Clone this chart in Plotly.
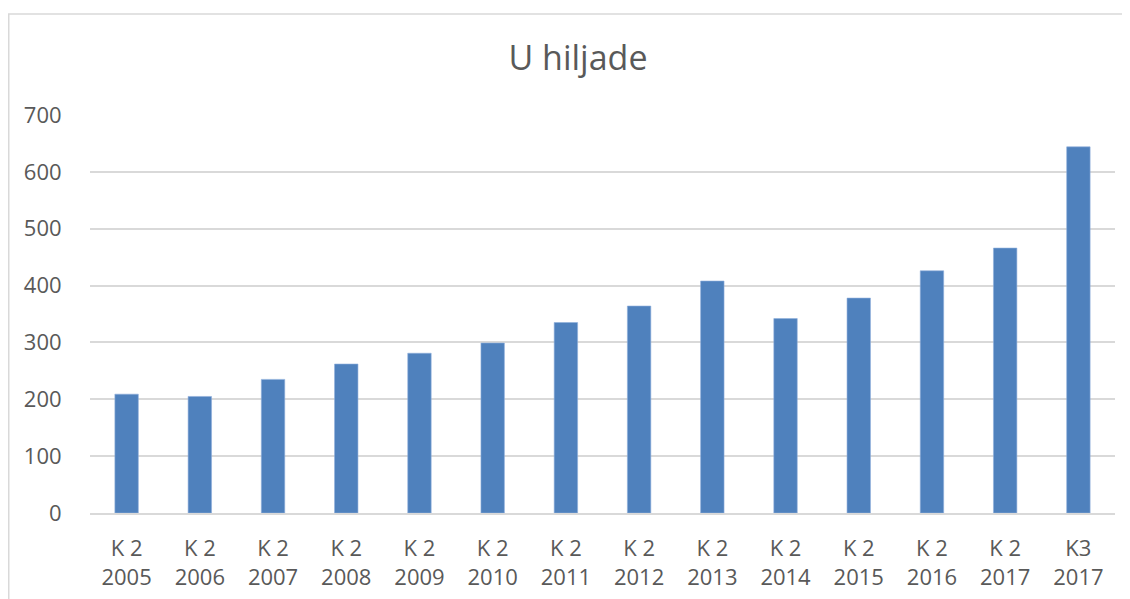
""" Bar chart: U hiljade """

import plotly.graph_objects as go

quarters = ["K 2", "K 2", "K 2", "K 2", "K 2", "K 2", "K 2",
            "K 2", "K 2", "K 2", "K 2", "K 2", "K 2", "K3"]
years = ["2005", "2006", "2007", "2008", "2009", "2010", "2011",
         "2012", "2013", "2014", "2015", "2016", "2017", "2017"]
values = [209, 205, 235, 262, 281, 299, 335, 364, 408, 342, 378, 426, 466, 644]
y_ticks = [0, 100, 200, 300, 400, 500, 600, 700]

labels = [f"{q}<br>{y}" for q, y in zip(quarters, years)]

# the page body adds an 8px offset, so the figure is laid out 8px up/left
W, H = 1130, 599
L, R, T, B = 82, 23, 107, 94
plot_w = W - L - R
plot_h = H - T - B

fig = go.Figure()

fig.add_trace(go.Bar(
    x=labels, y=values,
    marker=dict(color="#4f81bd", line=dict(color="#8eaedb", width=0.6)),
    hoverinfo="x+y",
))


def px_x(p):
    return (p - L) / plot_w


def px_y(p):
    return (H - B - p) / plot_h


# chart area border (cut off on the right and bottom)
fig.add_shape(type="rect", xref="paper", yref="paper",
              x0=px_x(0.75), x1=px_x(1140), y0=px_y(610), y1=px_y(6),
              line=dict(color="#d9d9d9", width=1.5), fillcolor="rgba(0,0,0,0)",
              layer="below")

font = "'Open Sans', sans-serif"

fig.update_layout(
    width=W, height=H,
    margin=dict(l=L, r=R, t=T, b=B),
    paper_bgcolor="white", plot_bgcolor="white",
    bargap=0.68,
    showlegend=False,
    font=dict(family=font, color="#595959", size=22),
    title=dict(text="U hiljade", x=570 / W, xanchor="center",
               y=1 - 50 / H, yanchor="middle",
               font=dict(family=font, size=34, color="#595959")),
)

fig.update_xaxes(
    type="category",
    showgrid=False, showline=True, linecolor="#d9d9d9", linewidth=1.5,
    ticks="outside", ticklen=15, tickcolor="rgba(0,0,0,0)",
    tickfont=dict(size=22, color="#595959"),
)
fig.update_yaxes(
    range=[0, 700], tickvals=y_ticks,
    showgrid=True, gridcolor="#d9d9d9", gridwidth=1.5,
    zeroline=False, showline=False,
    ticks="outside", ticklen=23, tickcolor="rgba(0,0,0,0)",
    tickfont=dict(size=22, color="#595959"),
)

fig.write_html("out.html")
